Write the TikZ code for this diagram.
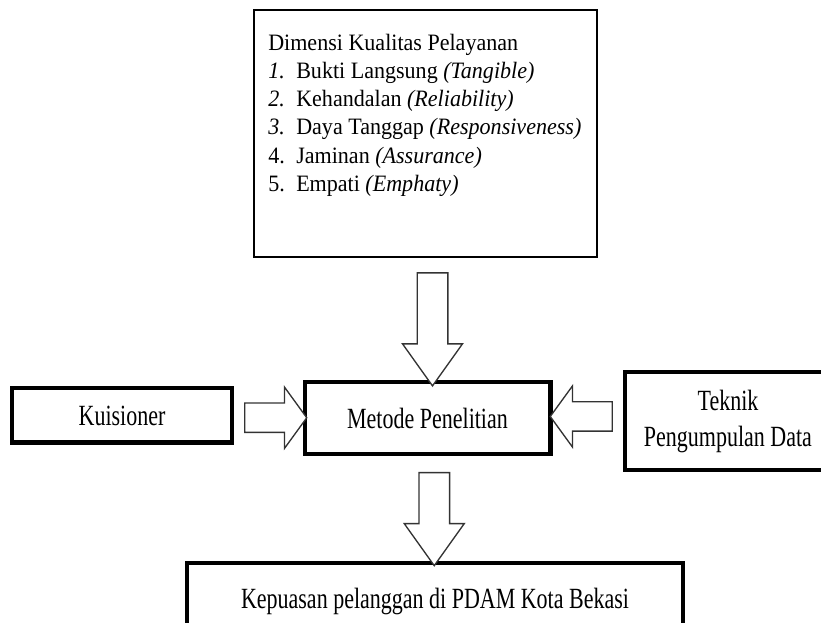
\documentclass[tikz,border=0pt]{standalone}
\usepackage{fontspec}
\setmainfont{Liberation Serif}[FakeStretch=0.75]
\newfontfamily\listfont{Liberation Serif}[FakeStretch=0.94]
\usetikzlibrary{shapes.arrows,calc}
\newcommand{\px}{0.75pt}
\newcommand{\nr}[1]{\makebox[21pt][l]{#1}}

\begin{document}
\begin{tikzpicture}[x=\px,y=-\px,
                    box/.style={draw=black,line width=3.5pt,inner sep=0pt,align=center,font=\fontsize{22}{27}\selectfont},
                    blockarr/.style={single arrow,draw=black!80,line width=1pt,fill=white,inner xsep=0pt,minimum width=0pt},
                    varr/.style={blockarr,inner ysep=11pt,single arrow head extend=11pt,single arrow tip angle=71},
                    harr/.style={blockarr,inner ysep=10.5pt,single arrow head extend=12pt,single arrow tip angle=108}]
                    \useasboundingbox (0,0) rectangle (821,623);
                    % kotak dimensi
                    \node[box,line width=1.2pt,minimum width=257pt,minimum height=185pt] (dim) at (425.5,133.5) {};
                    \node[anchor=north west,inner sep=0pt,align=left,font=\listfont\fontsize{17.6}{21.2}\selectfont] (dimtxt) at (268,33.5)
                        {Dimensi Kualitas Pelayanan\\
                         \nr{\textit{1.}}Bukti Langsung \textit{(Tangible)}\\
                         \nr{\textit{2.}}Kehandalan \textit{(Reliability)}\\
                         \nr{\textit{3.}}Daya Tanggap \textit{(Responsiveness)}\\
                         \nr{4.}Jaminan \textit{(Assurance)}\\
                         \nr{5.}Empati \textit{(Emphaty)}};
                    % kotak tengah dan bawah
                    \node[box,minimum width=184pt,minimum height=54pt] (met) at (427.5,418) {Metode Penelitian};
                    \node[box,minimum width=165pt,minimum height=41pt] (kuis) at (122,415.5) {Kuisioner};
                    \node[box,minimum width=154.5pt,minimum height=73.5pt] (tek) at (728,421) {Teknik\\Pengumpulan Data};
                    \node[box,minimum width=372pt,minimum height=58pt] (kep) at (435,601.5) {Kepuasan pelanggan di PDAM Kota Bekasi};
                    % panah
                    \node[varr,minimum height=84.75pt,rotate=-90] (a1) at ($(dim.south)!0.5!(met.north)+(6,0)$) {};
                    \node[harr,minimum height=46.5pt] (a2) at ($(kuis.east)!0.5!(met.west)+(2,1)$) {};
                    \node[harr,minimum height=46.5pt,rotate=180] (a3) at ($(tek.west)!0.5!(met.east)+(-1,-3)$) {};
                    \node[varr,minimum height=69.75pt,rotate=-90] (a4) at ($(met.south)!0.5!(kep.north)+(3,0)$) {};
                    \end{tikzpicture}
\end{document}
